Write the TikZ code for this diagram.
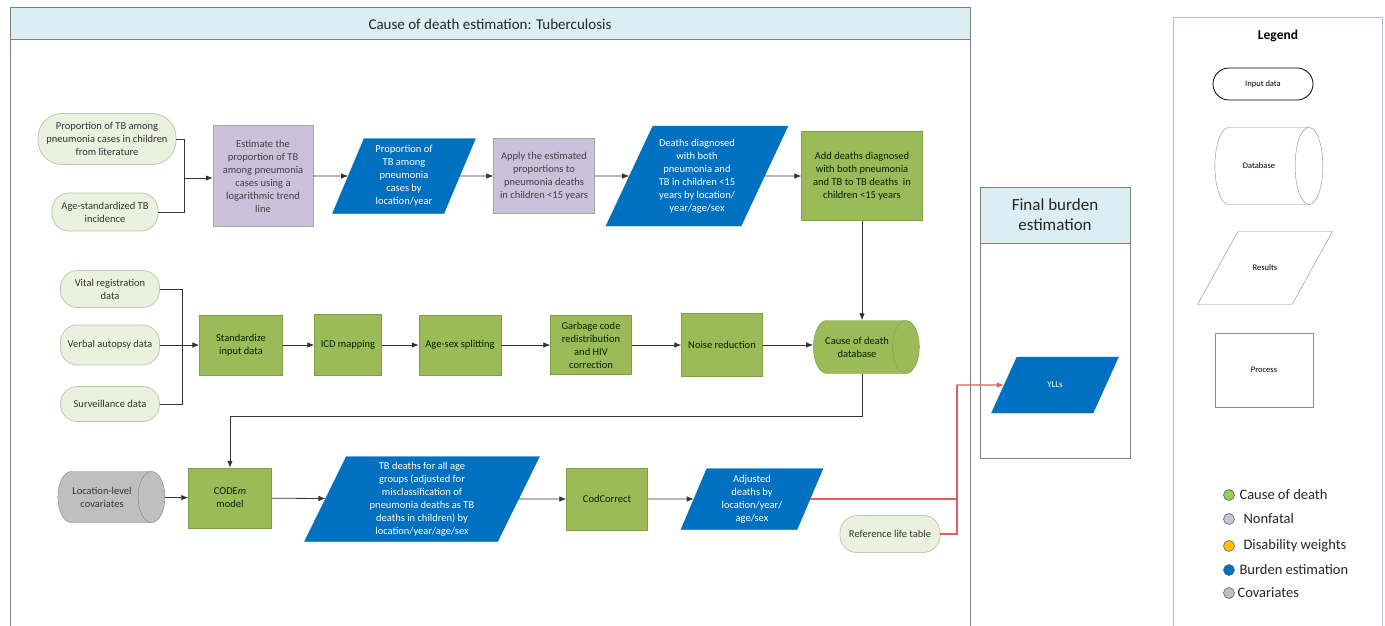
\documentclass[tikz,border=0pt]{standalone}
\usepackage{fontspec}
\setmainfont{Carlito}
\usetikzlibrary{shapes.geometric,arrows.meta}

\definecolor{codgreen}{HTML}{9BBB59}
\definecolor{codgreenline}{HTML}{7F9F45}
\definecolor{nfpurple}{HTML}{CCC1DA}
\definecolor{nfline}{HTML}{A6A6A6}
\definecolor{resblue}{HTML}{0070C0}
\definecolor{inputfill}{HTML}{EBF1DE}
\definecolor{inputline}{HTML}{BFC8B2}
\definecolor{covgray}{HTML}{BFBFBF}
\definecolor{headblue}{HTML}{DAEEF3}
\definecolor{framegray}{HTML}{808080}
\definecolor{legline}{HTML}{A9BED8}
\definecolor{redline}{HTML}{E06060}
\definecolor{dwyellow}{HTML}{FFC000}
\definecolor{legendgreen}{HTML}{92D050}

\tikzset{
  boxtext/.style={font=\fontsize{10.5}{13}\selectfont, align=center, inner sep=2pt},
  inputdata/.style={boxtext, rectangle, draw=inputline, fill=inputfill, line width=0.8pt,
    rounded corners=17pt, text=black!80},
  process/.style={boxtext, rectangle, draw=codgreenline, fill=codgreen, text=green!15!black},
  nonfatal/.style={boxtext, rectangle, draw=nfline, fill=nfpurple, text=black!75},
  result/.style={boxtext, trapezium, trapezium left angle=65, trapezium right angle=115,
    trapezium stretches body, draw=resblue, fill=resblue, text=white},
  database/.style={boxtext, cylinder, shape aspect=1.1, draw=codgreenline, fill=codgreen,
    text=green!15!black},
  frame/.style={draw=framegray, line width=1pt},
  conn/.style={draw=black!80, line width=0.8pt},
  arr/.style={conn, -{Latex[length=7pt,width=5.5pt]}},
  redconn/.style={draw=redline, line width=1.2pt},
  legshape/.style={font=\fontsize{8.5}{10}\selectfont, draw=black!45, fill=white},
  legdot/.style={circle, draw=black!60, line width=0.6pt, minimum size=11pt, inner sep=0pt},
  legtext/.style={anchor=west, font=\fontsize{14.5}{17}\selectfont, text=black!85}
}

\begin{document}
\begin{tikzpicture}[x=1pt,y=-1pt]
  \useasboundingbox (0,0) rectangle (1385,626);
  \fill[white] (0,0) rectangle (1385,626);
  % main frame
  \draw[frame] (10,8) rectangle (970,640);
  \draw[frame,fill=headblue] (10,8) rectangle (970,40);
  \node[font=\fontsize{15}{18}\selectfont, text=black!85] (maintitle) at (490,24)
    {Cause of death estimation: Tuberculosis};

  % final burden frame
  \draw[frame] (980,187) rectangle (1130,458);
  \draw[frame,fill=headblue] (980,187) rectangle (1130,243);
  \node[font=\fontsize{17}{20}\selectfont, align=center, text=black!85] (finaltitle) at (1055,215)
    {Final burden\\estimation};

  % legend frame
  \draw[draw=legline, line width=1pt] (1173,18) rectangle (1382,640);
  \node[font=\bfseries\fontsize{13.5}{16}\selectfont] (legtitle) at (1278,36) {Legend};

  % row 1: TB among pneumonia
  \node[inputdata, minimum width=138pt, minimum height=51pt, rounded corners=24pt] (litprop) at (107,139)
    {Proportion of TB among\\pneumonia cases in children\\from literature};
  \node[inputdata, minimum width=106pt, minimum height=38pt] (tbinc) at (105,212)
    {Age-standardized TB\\incidence};
  \node[nonfatal, minimum width=100pt, minimum height=101pt] (estprop) at (263,176)
    {Estimate the\\proportion of TB\\among pneumonia\\cases using a\\logarithmic trend\\line};
  \node[result, minimum width=143pt, minimum height=75pt, inner ysep=5pt, trapezium left angle=66,
    trapezium right angle=114] (propres) at (404,176)
    {Proportion of\\TB among\\pneumonia\\cases by\\location/year};
  \node[nonfatal, minimum width=101pt, minimum height=75pt] (applyprop) at (544,176)
    {Apply the estimated\\proportions to\\pneumonia deaths\\in children <15 years};
  \node[result, minimum width=182pt, minimum height=100pt, inner ysep=11pt, trapezium left angle=64,
    trapezium right angle=116] (bothres) at (697,176)
    {Deaths diagnosed\\with both\\pneumonia and\\TB in children <15\\years by location/\\year/age/sex};
  \node[process, minimum width=121pt, minimum height=89pt] (adddeaths) at (862,176)
    {Add deaths diagnosed\\with both pneumonia\\and TB to TB deaths\ \ in\\children <15 years};

  \coordinate (joinA) at (184,178);
  \draw[conn] (litprop.east) -| (joinA);
  \draw[conn] (tbinc.east) -| (joinA);
  \draw[arr] (joinA) -- (estprop.west |- joinA);
  \draw[arr] (estprop) -- (propres);
  \draw[arr] (propres) -- (applyprop);
  \draw[arr] (applyprop) -- (bothres);
  \draw[arr] (bothres) -- (adddeaths);

  % row 2: cause of death database
  \node[inputdata, minimum width=99pt, minimum height=37pt] (vrdata) at (110,289)
    {Vital registration\\data};
  \node[inputdata, minimum width=99pt, minimum height=40pt] (vadata) at (110,345)
    {Verbal autopsy data};
  \node[inputdata, minimum width=99pt, minimum height=35pt] (survdata) at (110,404)
    {Surveillance data};
  \node[process, minimum width=83pt, minimum height=60pt] (standardize) at (241,345)
    {Standardize\\input data};
  \node[process, minimum width=67pt, minimum height=61pt] (icdmap) at (348,345)
    {ICD mapping};
  \node[process, minimum width=82pt, minimum height=60pt] (agesex) at (460,345)
    {Age-sex splitting};
  \node[process, minimum width=81pt, minimum height=59pt] (garbage) at (591,345)
    {Garbage code\\redistribution\\and HIV\\correction};
  \node[process, minimum width=81pt, minimum height=63pt] (noise) at (722,345)
    {Noise reduction};
  \node[database, minimum height=106pt, minimum width=53pt] (coddb) at (857,347)
    {Cause of death\\database};

  \coordinate (joinB) at (182,345);
  \draw[conn] (vrdata.east) -| (joinB);
  \draw[conn] (survdata.east) -| (joinB);
  \draw[arr] (vadata.east) -- (standardize.west);
  \draw[arr] (standardize) -- (icdmap);
  \draw[arr] (icdmap) -- (agesex);
  \draw[arr] (agesex) -- (garbage);
  \draw[arr] (garbage) -- (noise);
  \draw[arr] (noise) -- (noise -| coddb.west);
  \draw[arr] (adddeaths.south) -- (adddeaths.south |- coddb.north);

  % row 3: modelling
  \node[boxtext, cylinder, shape aspect=1.1, draw=black!50, fill=covgray, text=black!80,
    minimum height=107pt, minimum width=51pt] (covars) at (102,497)
    {Location-level\\covariates};
  \node[process, minimum width=83pt, minimum height=60pt] (codem) at (230,498)
    {CODE\textit{m}\\model};
  \node[result, minimum width=235pt, minimum height=85pt, inner ysep=4pt, trapezium left angle=63,
    trapezium right angle=117] (tbdeaths) at (422,499)
    {TB deaths for all age\\groups (adjusted for\\misclassification of\\pneumonia deaths as TB\\deaths in children) by\\location/year/age/sex};
  \node[process, minimum width=81pt, minimum height=62pt] (codcorrect) at (607,499)
    {CodCorrect};
  \node[result, minimum width=142pt, minimum height=61pt, inner ysep=5pt, trapezium left angle=66,
    trapezium right angle=114] (adjdeaths) at (752,499)
    {Adjusted\\deaths by\\location/year/\\age/sex};
  \node[inputdata, minimum width=100pt, minimum height=37pt] (lifetable) at (890,534)
    {Reference life table};
  \node[result, minimum width=127pt, minimum height=56pt, inner ysep=22pt, trapezium left angle=63,
    trapezium right angle=117, font=\fontsize{9}{11}\selectfont] (ylls) at (1055,385)
    {YLLs};

  \draw[arr] (adddeaths.south |- coddb.south) -- ++(0,43) -| (codem.north);
  \draw[arr] (covars) -- (codem);
  \draw[arr] (codem) -- (tbdeaths);
  \draw[arr] (tbdeaths) -- (codcorrect);
  \draw[arr] (codcorrect) -- (adjdeaths);

  \coordinate (redturn) at (957,385);
  \draw[redconn] (adjdeaths.east) -| (redturn);
  \draw[redconn] (lifetable.east) -| (redturn);
  \draw[redconn, -{Latex[length=7pt,width=5.5pt]}] (redturn) -- (ylls.west);

  % legend shapes
  \node[legshape, rectangle, draw=black, line width=0.8pt, rounded corners=16pt,
    minimum width=100pt, minimum height=32pt] (leginput) at (1263,84) {Input data};
  \node[legshape, cylinder, shape aspect=2.2, minimum height=108pt, minimum width=77pt]
    (legdb) at (1259,166) {Database};
  \node[legshape, trapezium, trapezium left angle=60, trapezium right angle=120,
    trapezium stretches body, inner ysep=32pt, minimum width=135pt, minimum height=73pt] (legres) at (1265,268) {Results};
  \node[legshape, rectangle, minimum width=98pt, minimum height=74pt] (legproc) at (1264,370) {Process};

  % legend colours
  \node[legdot, fill=legendgreen] (dotcod) at (1229,495) {};
  \node[legtext] (txtcod) at (1236,495) {Cause of death};
  \node[legdot, fill=nfpurple] (dotnf) at (1229,519) {};
  \node[legtext] (txtnf) at (1240,519) {Nonfatal};
  \node[legdot, fill=dwyellow] (dotdw) at (1229,546) {};
  \node[legtext] (txtdw) at (1240,546) {Disability weights};
  \node[legdot, fill=resblue] (dotbe) at (1229,570) {};
  \node[legtext] (txtbe) at (1236,570) {Burden estimation};
  \node[legdot, fill=covgray] (dotcov) at (1229,593) {};
  \node[legtext] (txtcov) at (1234,593) {Covariates};
\end{tikzpicture}
\end{document}
